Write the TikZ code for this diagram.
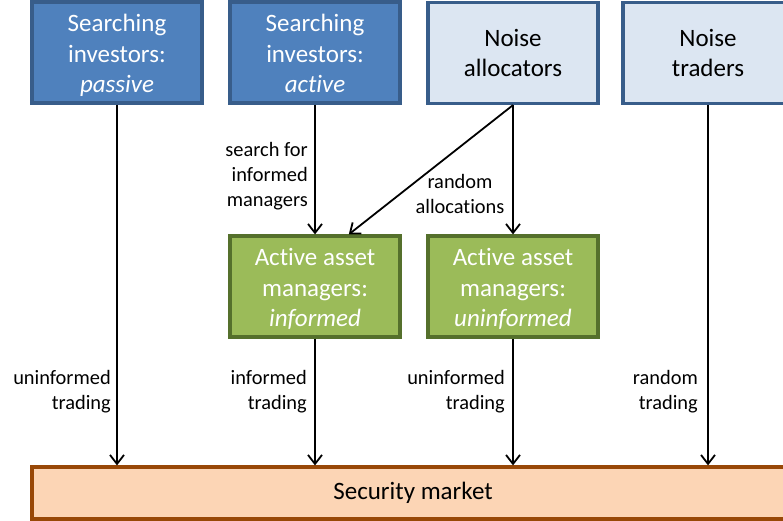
\documentclass[tikz,border=0pt]{standalone}
\usepackage{fontspec}
\setmainfont{Carlito}[RawFeature={-liga;-dlig;-clig}]
\usetikzlibrary{arrows.meta,calc}
\definecolor{bluefill}{HTML}{4F81BD}
\definecolor{blueline}{HTML}{385D8A}
\definecolor{lightfill}{HTML}{DCE6F2}
\definecolor{greenfill}{HTML}{9BBB59}
\definecolor{greenline}{HTML}{55702C}
\definecolor{orangefill}{HTML}{FCD5B5}
\definecolor{orangeline}{HTML}{984807}
\newcommand{\toplift}{\rule{0pt}{24pt}}
\tikzset{
  boxbase/.style={draw, line width=3.2pt, minimum width=170pt, minimum height=101pt,
    inner sep=0pt, align=center, font=\fontsize{25pt}{30.5pt}\selectfont},
  bluebox/.style={boxbase, fill=bluefill, draw=blueline, text=white},
  lightbox/.style={boxbase, fill=lightfill, draw=blueline, text=black},
  greenbox/.style={boxbase, fill=greenfill, draw=greenline, text=white},
  barbox/.style={draw=orangeline, fill=orangefill, line width=3.2pt, minimum width=762pt,
    minimum height=52pt, inner sep=0pt, font=\fontsize{25pt}{30.5pt}\selectfont},
  lbl/.style={inner sep=0pt, font=\fontsize{20.4pt}{25pt}\selectfont},
  arr/.style={line width=1.8pt, -{Straight Barb[length=9pt,width=14pt,line width=1.8pt]}}
}
\begin{document}
\begin{tikzpicture}[x=1pt,y=-1pt]
\useasboundingbox (0,0) rectangle (783,521);
\node[bluebox] (sp) at (117,52.5) {\toplift Searching\\investors:\\\textit{passive}};
\node[bluebox] (sa) at (315,52.5) {\toplift Searching\\investors:\\\textit{active}\vphantom{p}};
\node[lightbox] (na) at (513,53) {Noise\\allocators};
\node[lightbox] (nt) at (708,53) {Noise\\traders};
\node[greenbox] (inf) at (315,286.5) {\toplift Active asset\\managers:\\\textit{informed}\vphantom{p}};
\node[greenbox] (uninf) at (513,286.5) {\toplift Active asset\\managers:\\\textit{uninformed}\vphantom{p}};
\node[barbox] (mkt) at (413,493) {Security market};

\draw[arr] (sp.south) -- (sp.south |- mkt.north);
\draw[arr] (sa.south) -- (inf.north);
\draw[arr] (na.south) -- ($(inf.north)!0.39!(inf.north east)$);
\draw[arr] (na.south) -- (uninf.north);
\draw[arr] (inf.south) -- (inf.south |- mkt.north);
\draw[arr] (uninf.south) -- (uninf.south |- mkt.north);
\draw[arr] (nt.south) -- (nt.south |- mkt.north);

\node[lbl, align=right, anchor=east] (l1) at (308,176.5) {search for\\informed\\managers};
\node[lbl, align=center] (l2) at (460,194) {random\\allocations};
\node[lbl, align=right, anchor=east] (l3) at (111,392) {uninformed\\trading};
\node[lbl, align=right, anchor=east] (l4) at (307,392) {informed\\trading};
\node[lbl, align=right, anchor=east] (l5) at (505,392) {uninformed\\trading};
\node[lbl, align=right, anchor=east] (l6) at (698,392) {random\\trading};
\end{tikzpicture}
\end{document}
